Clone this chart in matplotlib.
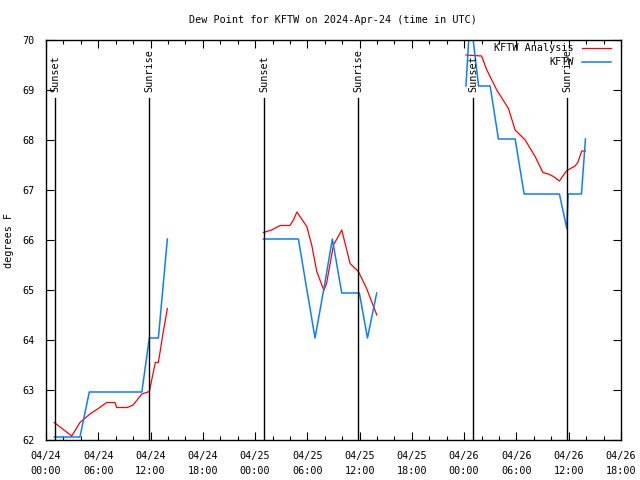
import matplotlib
matplotlib.use("Agg")
import matplotlib.pyplot as plt
import matplotlib.dates as mdates
from matplotlib.lines import Line2D
import numpy as np
import pandas as pd

plt.rcParams["font.family"] = ["DejaVu Sans Mono"]
plt.rcParams["font.size"] = 7.3

base = pd.Timestamp("2024-04-24 00:00")

# hours since 2024-04-24 00:00 UTC, one list per day
anal_hours = [
    [0.95, 2.95, 3.9, 5.05, 6.0, 6.97, 7.92, 8.1, 9.34, 10.0, 11.0, 11.86,
     12.25, 12.55, 12.9, 13.4, 13.93],
    [24.95, 25.9, 26.87, 28.0, 28.4, 28.8, 29.54, 29.93, 30.5, 31.08, 31.9,
     32.2, 33.0, 33.95, 34.9, 35.86, 36.8, 37.97],
    [48.2, 50.0, 50.6, 51.74, 53.08, 53.85, 55.0, 56.14, 57.03, 57.67, 58.24,
     58.93, 59.78, 60.73, 61.04, 61.5, 61.92],
]
anal_dewp = [
    [62.35, 62.08, 62.35, 62.52, 62.63, 62.75, 62.75, 62.65, 62.65, 62.7,
     62.92, 62.97, 63.3, 63.55, 63.55, 64.1, 64.63],
    [66.15, 66.2, 66.29, 66.29, 66.4, 66.56, 66.37, 66.27, 65.9, 65.37, 64.99,
     65.13, 65.9, 66.2, 65.53, 65.37, 65.03, 64.5],
    [69.7, 69.68, 69.4, 69.0, 68.63, 68.2, 68.0, 67.67, 67.35, 67.32, 67.27,
     67.18, 67.39, 67.48, 67.55, 67.78, 67.78],
]

obs_hours = [
    [0.95, 1.95, 2.95, 3.9, 4.97, 5.95, 6.95, 7.95, 8.95, 9.95, 11.0, 11.86,
     12.9, 13.93],
    [24.95, 25.95, 26.95, 27.95, 28.97, 29.95, 30.88, 31.9, 32.87, 33.95,
     34.95, 35.97, 36.9, 37.96],
    [48.2, 48.7, 49.65, 50.98, 51.93, 52.9, 53.85, 54.88, 55.9, 56.9, 57.9,
     58.93, 59.78, 59.93, 60.7, 61.46, 61.92],
]
obs_dewp = [
    [62.06, 62.06, 62.06, 62.06, 62.96, 62.96, 62.96, 62.96, 62.96, 62.96,
     62.96, 64.04, 64.04, 66.02],
    [66.02, 66.02, 66.02, 66.02, 66.02, 65.0, 64.04, 65.03, 66.02, 64.94,
     64.94, 64.94, 64.04, 64.94],
    [69.08, 70.5, 69.08, 69.08, 68.02, 68.02, 68.02, 66.92, 66.92, 66.92,
     66.92, 66.92, 66.23, 66.92, 66.92, 66.92, 68.02],
]

sun_hours = [1.05, 11.85, 25.07, 35.84, 49.06, 59.84]
sun_labels = ["Sunset", "Sunrise", "Sunset", "Sunrise", "Sunset", "Sunrise"]


def to_time(hours):
    return base + pd.to_timedelta(np.array(hours), unit="h")


fig = plt.figure(figsize=(6.4, 4.8), dpi=100)
ax = fig.add_axes([46 / 640, 40 / 480, 575 / 640, 400 / 480])

red = "#ff0000"
blue = "#0a80f5"

for h, v in zip(anal_hours, anal_dewp):
    ax.plot(to_time(h), v, color=red, lw=0.9)
for h, v in zip(obs_hours, obs_dewp):
    ax.plot(to_time(h), v, color=blue, lw=1.1)

for h, lab in zip(sun_hours, sun_labels):
    t = to_time([h])[0]
    ax.plot([t, t], [0, 0.855], color="black", lw=1.0,
            transform=ax.get_xaxis_transform())
    ax.text(t, 0.87, lab, rotation=90, ha="center", va="bottom",
            transform=ax.get_xaxis_transform())

ax.set_xlim(base, base + pd.Timedelta(hours=66))
ax.set_ylim(62, 70)
ax.set_yticks(np.arange(62, 71, 1))

ax.xaxis.set_major_locator(mdates.HourLocator(byhour=[0, 6, 12, 18]))
ax.xaxis.set_minor_locator(mdates.HourLocator(interval=2))
ax.xaxis.set_major_formatter(mdates.DateFormatter("%m/%d\n%H:%M"))

ax.tick_params(which="both", direction="in", top=True, right=True,
               width=0.8, colors="black")
ax.tick_params(which="major", length=6)
ax.tick_params(which="minor", length=3)
ax.tick_params(axis="x", pad=8)
ax.tick_params(axis="y", pad=8)
for lbl in ax.get_xticklabels():
    lbl.set_linespacing(1.55)
for s in ax.spines.values():
    s.set_linewidth(1.0)

ax.set_ylabel("degrees F")
ax.yaxis.set_label_coords(-0.056, 0.5)

fig.text(333 / 640, 1 - 20 / 480, "Dew Point for KFTW on 2024-Apr-24 (time in UTC)",
         ha="center", va="center")

handles = [Line2D([], [], color=red, lw=0.9), Line2D([], [], color=blue, lw=1.1)]
ax.legend(handles, ["KFTW Analysis", "KFTW"], loc="upper right",
          bbox_to_anchor=(0.995, 1.01), markerfirst=False, frameon=False,
          handlelength=2.9, handletextpad=0.8, labelspacing=0.4,
          borderaxespad=0.3)

fig.savefig("out.png", dpi=100)
